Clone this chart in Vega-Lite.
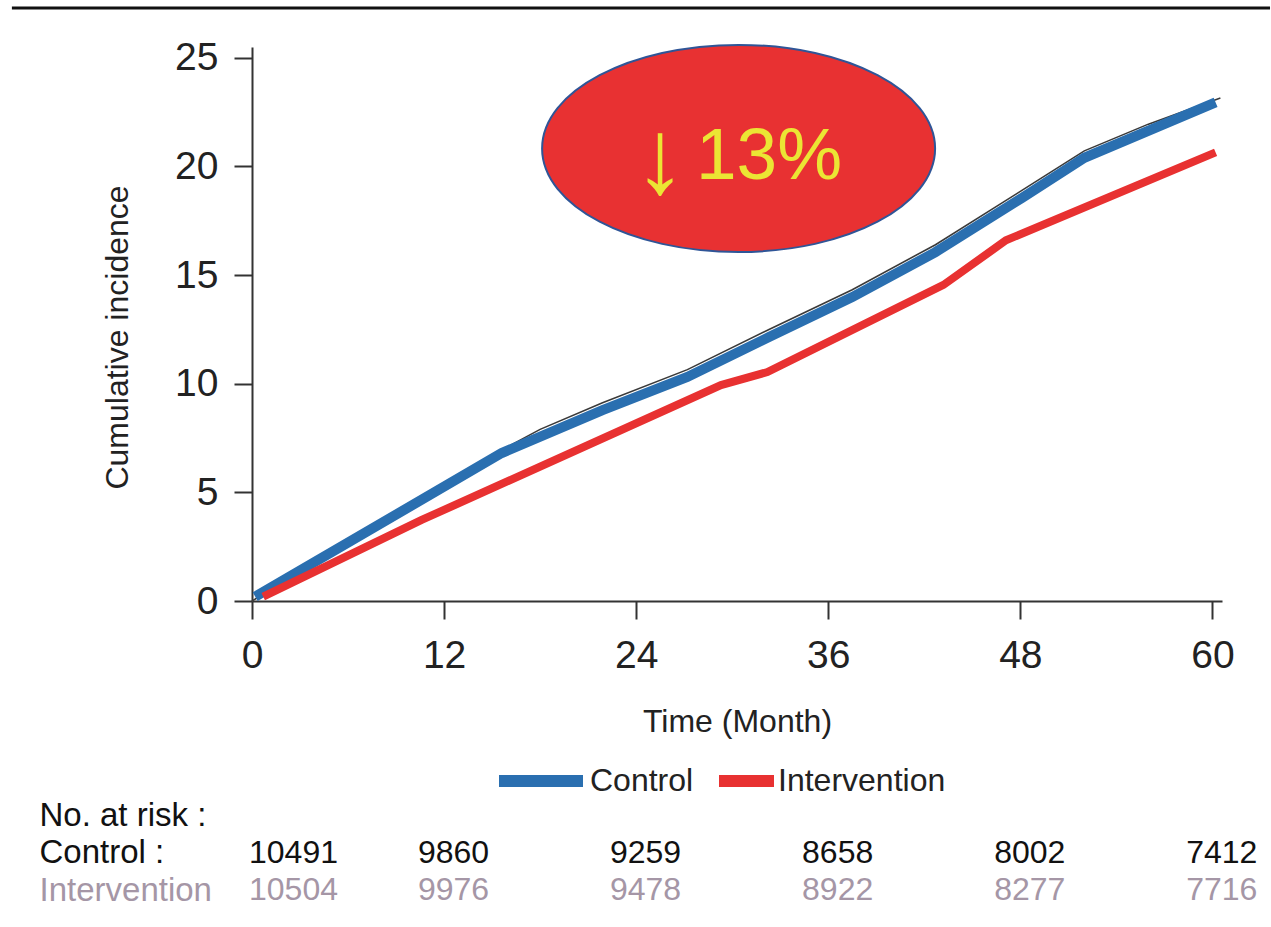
{
  "$schema": "https://vega.github.io/schema/vega-lite/v6.json",
  "padding": {"left": 10, "top": 6, "right": 0, "bottom": 0},
  "background": "white",
  "config": {
    "font": "Liberation Sans",
    "view": {"stroke": null},
    "axis": {
      "grid": false,
      "domainColor": "#333333",
      "domainWidth": 2,
      "tickColor": "#333333",
      "tickWidth": 2,
      "tickSize": 18,
      "labelColor": "#222222",
      "labelFontSize": 39,
      "labelFlush": false,
      "titleFontSize": 32,
      "titleFontWeight": "normal",
      "titleColor": "#222222"
    }
  },
  "datasets": {
    "curves": [
      {"group": "Control", "month": 0.2, "incidence": 0.2},
      {"group": "Control", "month": 15.6, "incidence": 6.81},
      {"group": "Control", "month": 21.9, "incidence": 8.79},
      {"group": "Control", "month": 27.2, "incidence": 10.31},
      {"group": "Control", "month": 32.3, "incidence": 12.15},
      {"group": "Control", "month": 37.5, "incidence": 13.99},
      {"group": "Control", "month": 42.7, "incidence": 16.06},
      {"group": "Control", "month": 48.1, "incidence": 18.55},
      {"group": "Control", "month": 52.0, "incidence": 20.4},
      {"group": "Control", "month": 60.2, "incidence": 22.95},
      {"group": "Intervention", "month": 0.7, "incidence": 0.2},
      {"group": "Intervention", "month": 10.6, "incidence": 3.73},
      {"group": "Intervention", "month": 29.3, "incidence": 9.94},
      {"group": "Intervention", "month": 32.2, "incidence": 10.54},
      {"group": "Intervention", "month": 43.2, "incidence": 14.55},
      {"group": "Intervention", "month": 47.1, "incidence": 16.6},
      {"group": "Intervention", "month": 60.2, "incidence": 20.65}
    ],
    "raw": [
      {"month": 0.0, "incidence": 0.0},
      {"month": 15.6, "incidence": 6.95},
      {"month": 18.0, "incidence": 7.9},
      {"month": 21.9, "incidence": 9.12},
      {"month": 27.2, "incidence": 10.65},
      {"month": 32.3, "incidence": 12.5},
      {"month": 37.5, "incidence": 14.33},
      {"month": 42.7, "incidence": 16.4},
      {"month": 48.1, "incidence": 18.9},
      {"month": 52.0, "incidence": 20.72},
      {"month": 56.0, "incidence": 21.95},
      {"month": 60.5, "incidence": 23.15}
    ],
    "risk": [
      {"row": "Control :", "month": 0, "n": "10491"},
      {"row": "Control :", "month": 12, "n": "9860"},
      {"row": "Control :", "month": 24, "n": "9259"},
      {"row": "Control :", "month": 36, "n": "8658"},
      {"row": "Control :", "month": 48, "n": "8002"},
      {"row": "Control :", "month": 60, "n": "7412"},
      {"row": "Intervention", "month": 0, "n": "10504"},
      {"row": "Intervention", "month": 12, "n": "9976"},
      {"row": "Intervention", "month": 24, "n": "9478"},
      {"row": "Intervention", "month": 36, "n": "8922"},
      {"row": "Intervention", "month": 48, "n": "8277"},
      {"row": "Intervention", "month": 60, "n": "7716"}
    ]
  },
  "bounds": "flush",
  "spacing": 195.6,
  "resolve": {"scale": {"color": "independent"}},
  "vconcat": [
    {
      "width": 970,
      "height": 554,
      "layer": [
        {
          "data": {"values": [{}]},
          "mark": {"type": "rule", "color": "#111111", "strokeWidth": 3},
          "encoding": {
            "x": {"datum": -15.0, "type": "quantitative", "scale": {"domain": [0, 60.6], "nice": false}},
            "x2": {"datum": 63.6},
            "y": {"datum": 27.3, "type": "quantitative", "scale": {"domain": [0, 25.5], "nice": false}}
          }
        },
        {
          "data": {"name": "raw"},
          "mark": {"type": "line", "color": "#3a3a3a", "strokeWidth": 1.6},
          "encoding": {
            "x": {"field": "month", "type": "quantitative", "scale": {"domain": [0, 60.6], "nice": false}},
            "y": {"field": "incidence", "type": "quantitative", "scale": {"domain": [0, 25.5], "nice": false}}
          }
        },
        {
          "data": {"name": "curves"},
          "mark": {"type": "line"},
          "encoding": {
            "x": {
              "field": "month", "type": "quantitative",
              "scale": {"domain": [0, 60.6], "nice": false},
              "axis": {"values": [0, 12, 24, 36, 48, 60], "title": "Time (Month)", "labelPadding": 17, "titlePadding": 31}
            },
            "y": {
              "field": "incidence", "type": "quantitative",
              "scale": {"domain": [0, 25.5], "nice": false},
              "axis": {"values": [0, 5, 10, 15, 20, 25], "title": "Cumulative incidence", "labelPadding": 16, "titlePadding": 40, "titleY": 290}
            },
            "color": {
              "field": "group", "type": "nominal",
              "scale": {"domain": ["Control", "Intervention"], "range": ["#2a6fb0", "#e83131"]},
              "legend": {
                "orient": "none", "legendX": 241, "legendY": 686,
                "direction": "horizontal", "title": null,
                "symbolType": "stroke", "symbolStrokeWidth": 12, "symbolSize": 7056,
                "labelFontSize": 32, "labelColor": "#222222", "labelOffset": 1,
                "columnPadding": 0,
                "symbolLimit": 0,
                "labelLimit": 0,
                "encode": {
                  "symbols": {
                    "update": {
                      "x": {"signal": "datum.label === 'Intervention' ? 52.5 : 48"},
                      "size": {"signal": "datum.label === 'Intervention' ? 3025 : 7056"}
                    }
                  },
                  "labels": {
                    "update": {
                      "dx": {"signal": "datum.label === 'Intervention' ? -13 : 0"}
                    }
                  }
                }
              }
            },
            "strokeWidth": {
              "field": "group", "type": "nominal",
              "scale": {"domain": ["Control", "Intervention"], "range": [10, 8]},
              "legend": null
            }
          }
        },
        {
          "data": {"values": [{}]},
          "mark": {
            "type": "point",
            "shape": "M1,0 C1,0.291 0.5523,0.527 0,0.527 C-0.5523,0.527 -1,0.291 -1,0 C-1,-0.291 -0.5523,-0.527 0,-0.527 C0.5523,-0.527 1,-0.291 1,0 Z",
            "size": 154449,
            "filled": true,
            "fill": "#e83132",
            "stroke": "#2f5597",
            "strokeWidth": 2,
            "opacity": 1
          },
          "encoding": {
            "x": {"datum": 30.4, "type": "quantitative"},
            "y": {"datum": 20.83, "type": "quantitative"}
          }
        },
        {
          "data": {"values": [{}]},
          "mark": {
            "type": "text",
            "text": "↓",
            "fontSize": 106,
            "color": "#ebe534",
            "align": "center",
            "baseline": "alphabetic"
          },
          "encoding": {
            "x": {"datum": 25.5, "type": "quantitative"},
            "y": {"datum": 18.8, "type": "quantitative"}
          }
        },
        {
          "data": {"values": [{}]},
          "mark": {
            "type": "text",
            "text": "13%",
            "fontSize": 73,
            "color": "#ebe534",
            "align": "center",
            "baseline": "alphabetic"
          },
          "encoding": {
            "x": {"datum": 32.3, "type": "quantitative"},
            "y": {"datum": 19.43, "type": "quantitative"}
          }
        }
      ]
    },
    {
      "width": 970,
      "height": 112.5,
      "data": {"name": "risk"},
      "encoding": {
        "x": {"field": "month", "type": "quantitative", "scale": {"domain": [0, 60.6], "nice": false}, "axis": null},
        "y": {
          "field": "row", "type": "nominal",
          "scale": {"type": "point", "domain": ["No. at risk :", "Control :", "Intervention"], "padding": 0.5},
          "axis": {
            "title": null, "domain": false, "ticks": false,
            "labelAlign": "left", "labelBaseline": "middle", "labelPadding": 213,
            "labelFontSize": 33, "labelLimit": 0,
            "labelColor": {"condition": {"test": "datum.value === 'Intervention'", "value": "#a596a6"}, "value": "#111111"}
          }
        },
        "text": {"field": "n"},
        "color": {
          "field": "row", "type": "nominal",
          "scale": {"domain": ["Control :", "Intervention"], "range": ["#111111", "#a596a6"]},
          "legend": null
        }
      },
      "layer": [
        {
          "transform": [{"filter": "datum.month == 0"}],
          "mark": {"type": "text", "align": "left", "dx": -3, "baseline": "middle", "fontSize": 32}
        },
        {
          "transform": [{"filter": "datum.month > 0"}],
          "mark": {"type": "text", "align": "right", "dx": 45, "baseline": "middle", "fontSize": 32}
        }
      ]
    }
  ]
}
